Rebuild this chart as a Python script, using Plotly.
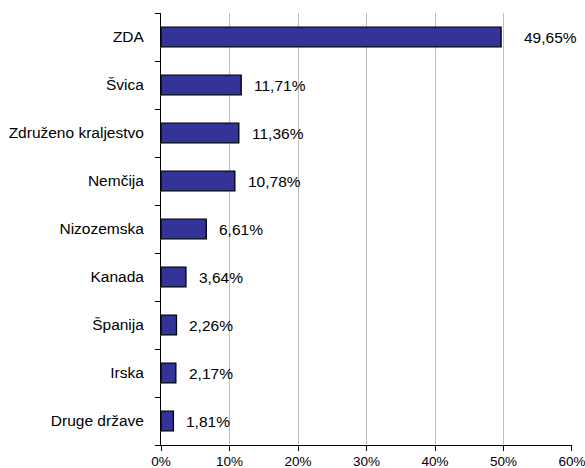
import plotly.graph_objects as go

# deleži po državah
drzave = ["ZDA", "Švica", "Združeno kraljestvo", "Nemčija", "Nizozemska",
          "Kanada", "Španija", "Irska", "Druge države"]
delezi = [49.65, 11.71, 11.36, 10.78, 6.61, 3.64, 2.26, 2.17, 1.81]
oznake = ["49,65%", "11,71%", "11,36%", "10,78%", "6,61%",
          "3,64%", "2,26%", "2,17%", "1,81%"]
x_ticks = [0, 10, 20, 30, 40, 50, 60]
x_tick_text = ["0%", "10%", "20%", "30%", "40%", "50%", "60%"]

pos = list(range(len(drzave)))
family = "Liberation Sans, Arial, sans-serif"
font_lbl = dict(family=family, size=15.5, color="#000000")
font_tick = dict(family=family, size=13.5, color="#000000")

fig = go.Figure()
fig.add_trace(go.Bar(
    x=delezi, y=pos, orientation="h",
    marker=dict(color="#333399", line=dict(color="#000000", width=1.3)),
    width=0.41, showlegend=False, hoverinfo="skip"
))

# oznake vrednosti desno od stolpcev
for p, v, t in zip(pos, delezi, oznake):
    fig.add_annotation(x=v, y=p, text=t, showarrow=False, xanchor="left",
                       xshift=11 if v < 40 else 21, font=font_lbl)

# drugi y-os samo za kljukice med kategorijami
fig.add_trace(go.Scatter(x=[None], y=[None], yaxis="y2", showlegend=False))

fig.update_layout(
    width=585, height=468,
    margin=dict(l=161, r=13, t=13, b=23),
    paper_bgcolor="white", plot_bgcolor="white",
    font=font_tick,
    xaxis=dict(range=[0, 60.001], tickvals=x_ticks, ticktext=x_tick_text,
               showgrid=True, gridcolor="#c0c0c0", gridwidth=1,
               showline=True, linecolor="#000000", linewidth=1,
               ticks="outside", ticklen=5, tickcolor="#000000",
               tickfont=font_tick, ticklabeloverflow="allow",
               ticklabelstandoff=-1,
               zeroline=False, fixedrange=True, automargin=False),
    yaxis=dict(range=[len(drzave) - 0.5, -0.5], tickvals=pos, ticktext=drzave,
               showgrid=False, zeroline=False, showline=True,
               linecolor="#000000", linewidth=1, ticks="",
               tickfont=font_lbl, ticklabelstandoff=13, automargin=False),
    yaxis2=dict(range=[len(drzave) - 0.5, -0.5], overlaying="y", side="left",
                tickvals=[i - 0.5 for i in range(len(drzave) + 1)],
                showticklabels=False, ticks="outside", ticklen=5,
                tickcolor="#000000", showgrid=False, zeroline=False,
                showline=False, automargin=False),
)

# brez roba strani, da slika zapolni okno
fig.write_html("out.html", config={"displayModeBar": False},
               post_script="document.body.style.margin='0';")
